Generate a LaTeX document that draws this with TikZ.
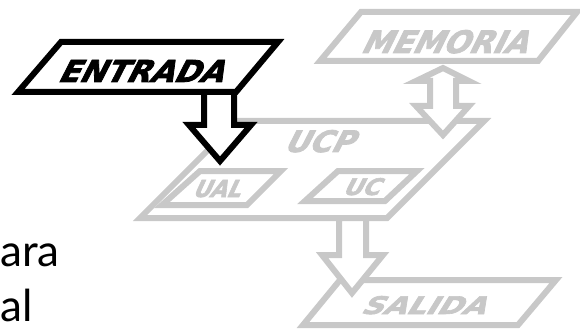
\documentclass[tikz,border=0pt]{standalone}
\usepackage{fontspec}
\newfontfamily\boxfont{DejaVu Sans}[BoldFeatures={FakeSlant=0.5,FakeBold=2.5}]
\newfontfamily\txtfont{Lato}
\definecolor{lgray}{RGB}{200,200,200}
\newcommand{\boxlbl}[3]{\resizebox{#1pt}{#2pt}{\boxfont\bfseries #3}}
\begin{document}
\begin{tikzpicture}[x=1pt,y=-1pt,
  gframe/.style={draw=lgray,line width=6pt,fill=white},
  bframe/.style={draw=black,line width=6pt,fill=white},
  lbl/.style={anchor=base west,inner sep=0pt,outer sep=0pt},
  side/.style={anchor=base west,inner sep=0pt,font=\txtfont\fontsize{44}{55}\selectfont}]
\useasboundingbox (0,0) rectangle (580,331);
% UCP
\draw[gframe] (237,121) -- (484,121) -- (387,218) -- (140,218) -- cycle;
\draw[gframe] (200,171) -- (281,171) -- (247,205) -- (162,205) -- cycle;
\draw[gframe] (338,171) -- (417,171) -- (385,201) -- (305,201) -- cycle;
\node[lbl,text=lgray] (ucp) at (283,152) {\boxlbl{69}{22}{UCP}};
\node[lbl,text=lgray] (ual) at (192,197) {\boxlbl{47.5}{17}{UAL}};
\node[lbl,text=lgray] (uc) at (342,195) {\boxlbl{36.5}{17}{UC}};
% black arrow
\draw[bframe] (204,92) -- (204,125) -- (189,125) -- (220,161) -- (251,125) -- (234,125) -- (234,92) -- cycle;
% double arrow
\draw[gframe] (443,68) -- (469,81) -- (456,81) -- (456,106) -- (469,106) -- (443,135) -- (416,106) -- (430,106) -- (430,81) -- (416,81) -- cycle;
% MEMORIA
\draw[gframe] (361,12) -- (577,12) -- (538,61) -- (320,61) -- cycle;
\node[lbl,text=lgray] (mem) at (360,53) {\boxlbl{166}{23}{MEMORIA}};
% ENTRADA
\draw[bframe] (61,42) -- (278,42) -- (236,92) -- (18,92) -- cycle;
\node[lbl,text=black] (ent) at (57,82) {\boxlbl{165}{22}{ENTRADA}};
% SALIDA
\draw[gframe] (340,280) -- (556,280) -- (518,325) -- (303,325) -- cycle;
\node[lbl,text=lgray] (sal) at (360,314) {\boxlbl{124}{18}{SALIDA}};
\draw[gframe] (339,218) -- (339,255) -- (322,255) -- (352,293) -- (383,255) -- (366,255) -- (366,218) -- cycle;
% side text
\node[side] (t1) at (0,266) {ara};
\node[side] (t2) at (0,321) {al};
\end{tikzpicture}
\end{document}
